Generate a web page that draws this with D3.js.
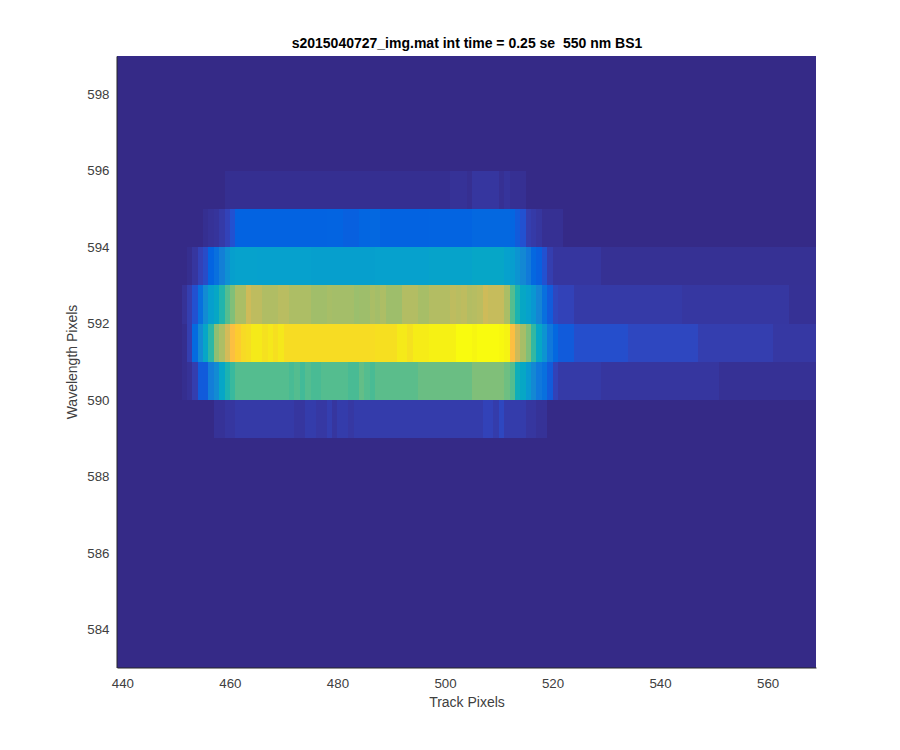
<!DOCTYPE html>
<html><head><meta charset="utf-8">
<script src="https://cdn.jsdelivr.net/npm/d3@7"></script>
<style>html,body{margin:0;background:#fff}svg{display:block}text{font-family:"Liberation Sans",Arial,sans-serif}</style>
</head><body><svg id="c" width="900" height="750"></svg>
<script>
const titleText = "s2015040727_img.mat int time = 0.25 se  550 nm BS1";
const xLabel = "Track Pixels";
const yLabel = "Wavelength Pixels";
const xTicks = [440,460,480,500,520,540,560];
const yTicks = [584,586,588,590,592,594,596,598];
const xExtent = [439,569];
const yExtent = [583,599];

// Each row: [first column of a run, value]; a run lasts until the next entry.
const row589 = [[457,.02],[459,.03],[461,.04],[472,.03],[474,.045],[476,.035],[478,.05],[479,.03],[480,.045],[482,.035],[483,.045],[507,.06],[509,.045],[510,.07],[511,.045],[515,.03],[517,.02],[519,0]];
const row590 = [[451,.01],[452,.02],[453,.05],[454,.11],[456,.22],[457,.27],[458,.37],[459,.45],[460,.5],[461,.54],[471,.525],[472,.54],[473,.515],[474,.54],[475,.525],[477,.54],[482,.525],[484,.56],[485,.54],[486,.525],[487,.55],[495,.57],[505,.6],[511,.575],[512,.54],[513,.42],[514,.38],[515,.32],[516,.26],[517,.2],[518,.17],[519,.11],[520,.06],[521,.04],[529,.03],[551,.018]];
const row591 = [[451,.01],[452,.05],[453,.15],[454,.27],[455,.37],[456,.48],[457,.62],[458,.67],[459,.74],[460,.83],[461,.87],[462,.91],[463,.92],[464,.95],[466,.93],[467,.945],[468,.925],[469,.945],[470,.915],[487,.925],[491,.95],[493,.93],[494,.955],[497,.965],[502,1],[505,.98],[506,1],[510,.99],[511,.97],[512,.83],[513,.73],[514,.66],[515,.6],[516,.49],[517,.38],[518,.3],[519,.2],[520,.14],[521,.11],[524,.085],[534,.07],[547,.05],[561,.035]];
const row592 = [[451,.02],[452,.05],[453,.09],[454,.17],[455,.27],[456,.34],[457,.38],[458,.46],[459,.54],[460,.6],[461,.665],[463,.73],[464,.7],[466,.675],[469,.69],[471,.67],[475,.65],[478,.66],[479,.655],[483,.64],[484,.645],[486,.665],[487,.655],[488,.67],[489,.645],[492,.68],[495,.66],[497,.68],[501,.7],[502,.69],[503,.7],[504,.68],[505,.685],[506,.695],[507,.73],[508,.715],[511,.665],[512,.54],[513,.45],[514,.38],[515,.35],[516,.31],[517,.25],[518,.17],[519,.11],[520,.07],[521,.06],[524,.04],[544,.032],[564,.018]];
const row593 = [[452,.01],[453,.03],[454,.06],[455,.08],[456,.13],[457,.17],[458,.23],[459,.29],[460,.34],[461,.35],[465,.345],[475,.34],[487,.345],[497,.355],[505,.37],[511,.345],[512,.335],[513,.3],[514,.26],[515,.21],[516,.14],[517,.12],[518,.09],[519,.05],[520,.03],[529,.016]];
const row594 = [[455,.012],[456,.02],[457,.025],[458,.04],[459,.06],[460,.09],[461,.125],[478,.13],[481,.12],[484,.135],[486,.14],[488,.125],[497,.13],[505,.14],[512,.135],[513,.11],[514,.09],[515,.05],[516,.04],[517,.03],[518,.015],[522,0]];
const row595 = [[459,.012],[501,.02],[504,.013],[505,.03],[510,.015],[511,.025],[512,.015],[515,0]];
const rows = [[589,row589],[590,row590],[591,row591],[592,row592],[593,row593],[594,row594],[595,row595]];

// Parula colormap stops
const parula = [[.2081,.1663,.5292],[.2123,.2138,.627],[.1959,.2645,.7279],[.1253,.3242,.8303],[.0117,.3875,.882],[.0165,.4266,.8786],[.0498,.4586,.8641],[.0723,.4887,.8467],[.0793,.52,.8312],[.0641,.557,.824],[.0343,.5966,.8199],[.0239,.6287,.8038],[.0228,.6535,.7768],[.0384,.6743,.7436],[.0843,.6932,.7062],[.1453,.7125,.6645],[.2178,.7250,.6196],[.3022,.7376,.5727],[.3953,.7459,.5257],[.4871,.749,.4814],[.5709,.7485,.4416],[.6473,.7456,.4089],[.7184,.7411,.3808],[.7858,.7356,.3576],[.8507,.7299,.3381],[.9139,.7258,.3209],[.9739,.7314,.3011],[.999,.7653,.2164],[.988,.8066,.1794],[.9697,.8481,.1475],[.9589,.8949,.1132],[.9661,.9514,.0755],[.9763,.9831,.0538]];
const stops = parula.map(c => d3.rgb(c[0]*255,c[1]*255,c[2]*255));
const color = d3.scaleLinear().domain(stops.map((_,i)=>i/(stops.length-1))).range(stops).interpolate(d3.interpolateRgb);

const svg = d3.select("#c");
const x = d3.scaleLinear().domain(xExtent).range([117,816]);
const y = d3.scaleLinear().domain(yExtent).range([667.5,56]);

svg.append("rect").attr("x",x(xExtent[0])).attr("y",y(yExtent[1]))
  .attr("width",x(xExtent[1])-x(xExtent[0])).attr("height",y(yExtent[0])-y(yExtent[1]))
  .attr("fill",color(0)).attr("shape-rendering","crispEdges");

const cells = rows.flatMap(([r,runs]) => runs.map((d,i)=>({
  r, x0:d[0], x1:i+1<runs.length?runs[i+1][0]:xExtent[1], v:d[1]})));
svg.append("g").selectAll("rect").data(cells).join("rect")
  .attr("x",d=>x(d.x0)).attr("width",d=>x(d.x1)-x(d.x0))
  .attr("y",d=>y(d.r+1)).attr("height",d=>y(d.r)-y(d.r+1))
  .attr("fill",d=>color(d.v)).attr("shape-rendering","crispEdges");

const ax = svg.append("g").attr("transform","translate(0,667.5)")
  .call(d3.axisBottom(x).tickValues(xTicks).tickSize(0).tickPadding(11).tickFormat(d3.format("d")));
const ay = svg.append("g").attr("transform","translate(116.5,0)")
  .call(d3.axisLeft(y).tickValues(yTicks).tickSize(0).tickPadding(7).tickFormat(d3.format("d")));
[ax,ay].forEach(a=>{
  a.selectAll("text").attr("fill","#404040").style("font-size","13.3px").style("font-family",'"Liberation Sans",Arial,sans-serif');
  a.select(".domain").attr("stroke","#262626").attr("stroke-width",1);
});

svg.append("text").attr("x",467).attr("y",707).attr("text-anchor","middle")
  .attr("fill","#404040").style("font-size","14px").text(xLabel);
svg.append("text").attr("transform","translate(77,362) rotate(-90)").attr("text-anchor","middle")
  .attr("fill","#404040").style("font-size","14px").text(yLabel);
svg.append("text").attr("x",467).attr("y",48).attr("text-anchor","middle")
  .attr("fill","#000").style("font-size","14px").style("font-weight","bold").style("white-space","pre").text(titleText);
</script></body></html>
